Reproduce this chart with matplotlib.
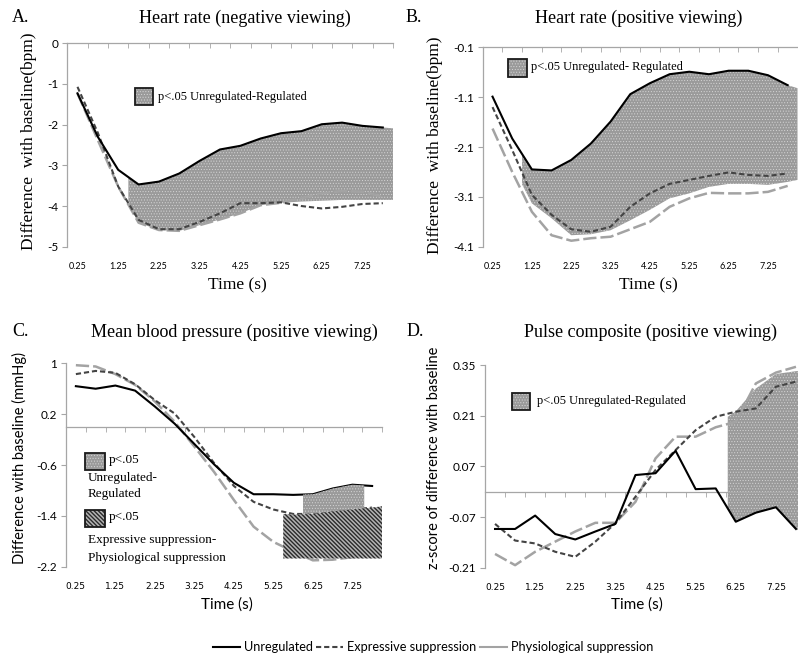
import numpy as np
import matplotlib
matplotlib.use('Agg')
import matplotlib.pyplot as plt
from matplotlib.patches import Rectangle
from matplotlib.lines import Line2D

SERIF = ['Liberation Serif', 'DejaVu Serif']
SANS = ['Lato', 'DejaVu Sans']

# data ===============================================
time = [0.25, 0.75, 1.25, 1.75, 2.25, 2.75, 3.25, 3.75,
        4.25, 4.75, 5.25, 5.75, 6.25, 6.75, 7.25, 7.75]
tick_pos = [0.25, 1.25, 2.25, 3.25, 4.25, 5.25, 6.25, 7.25]
tick_labels = ['0.25', '1.25', '2.25', '3.25', '4.25', '5.25', '6.25', '7.25']

# A. heart rate, negative viewing
hrn_unreg = [-1.23, -2.30, -3.11, -3.47, -3.40, -3.20, -2.89, -2.61,
             -2.52, -2.34, -2.21, -2.16, -1.99, -1.95, -2.03, -2.07]
hrn_expr = [-1.07, -2.20, -3.52, -4.34, -4.57, -4.57, -4.39, -4.18,
            -3.93, -3.93, -3.91, -4.00, -4.06, -4.02, -3.95, -3.93]
hrn_phys = [-1.23, -2.38, -3.52, -4.41, -4.59, -4.61, -4.47, -4.33,
            -4.18, -3.98, -3.92, -3.81, -3.69, -3.63, -3.65, -3.77]
hrn_sig_x = [1.5, 1.75, 2.25, 2.75, 3.25, 3.75, 4.25, 4.75,
             5.25, 5.75, 6.25, 6.75, 7.25, 7.75, 8.0]
hrn_sig_top = [-3.29, -3.47, -3.40, -3.20, -2.89, -2.61, -2.52, -2.34,
               -2.21, -2.16, -1.99, -1.95, -2.03, -2.07, -2.09]
hrn_sig_low = [-3.95, -4.41, -4.59, -4.61, -4.47, -4.33, -4.18, -3.98,
               -3.92, -3.89, -3.87, -3.85, -3.85, -3.85, -3.85]

# B. heart rate, positive viewing
hrp_unreg = [-1.09, -1.93, -2.55, -2.57, -2.36, -2.03, -1.59, -1.04,
             -0.82, -0.64, -0.59, -0.64, -0.57, -0.57, -0.66, -0.86]
hrp_expr = [-1.30, -2.16, -3.06, -3.46, -3.75, -3.80, -3.70, -3.30,
            -3.03, -2.84, -2.76, -2.68, -2.61, -2.66, -2.68, -2.63]
hrp_phys = [-1.73, -2.60, -3.40, -3.87, -3.98, -3.93, -3.90, -3.75,
            -3.60, -3.30, -3.13, -3.02, -3.03, -3.03, -3.00, -2.88]
hrp_sig_x = [1.0, 1.25, 1.75, 2.25, 2.75, 3.25, 3.75, 4.25, 4.75,
             5.25, 5.75, 6.25, 6.75, 7.25, 7.75, 8.0]
hrp_sig_top = [-2.24, -2.55, -2.57, -2.36, -2.03, -1.59, -1.04, -0.82, -0.64,
               -0.59, -0.64, -0.57, -0.57, -0.66, -0.86, -0.92]
hrp_sig_low = [-2.85, -3.23, -3.53, -3.87, -3.85, -3.77, -3.57, -3.36, -3.13,
               -3.03, -2.90, -2.84, -2.84, -2.86, -2.80, -2.76]

# C. mean blood pressure, positive viewing
bp_unreg = [0.64, 0.60, 0.65, 0.57, 0.32, 0.05, -0.27, -0.59,
            -0.88, -1.06, -1.06, -1.07, -1.06, -0.97, -0.91, -0.93]
bp_expr = [0.83, 0.88, 0.85, 0.67, 0.42, 0.21, -0.16, -0.57,
           -0.93, -1.18, -1.30, -1.37, -1.37, -1.33, -1.30, -1.27]
bp_phys = [0.97, 0.95, 0.83, 0.66, 0.40, 0.08, -0.31, -0.71,
           -1.15, -1.57, -1.81, -1.96, -2.10, -2.09, -2.05, -2.02]
bp_sig1_x = [6.0, 6.25, 6.75, 7.25, 7.55]
bp_sig1_top = [-1.065, -1.06, -0.97, -0.91, -0.92]
bp_sig1_low = [-1.37, -1.36, -1.33, -1.30, -1.28]
bp_sig2_x = [5.5, 5.75, 6.25, 6.75, 7.25, 7.75, 8.0]
bp_sig2_top = [-1.37, -1.38, -1.37, -1.33, -1.30, -1.27, -1.25]
bp_sig2_low = [-2.07, -2.07, -2.07, -2.07, -2.07, -2.07, -2.07]

# D. pulse composite, positive viewing
pc_unreg = [-0.103, -0.103, -0.066, -0.117, -0.132, -0.110, -0.089, 0.046,
            0.051, 0.113, 0.007, 0.009, -0.083, -0.058, -0.043, -0.103]
pc_expr = [-0.089, -0.135, -0.143, -0.166, -0.180, -0.138, -0.087, -0.014,
           0.060, 0.115, 0.170, 0.207, 0.221, 0.230, 0.290, 0.304]
pc_phys = [-0.172, -0.203, -0.166, -0.138, -0.110, -0.086, -0.086, -0.028,
           0.092, 0.152, 0.152, 0.178, 0.193, 0.299, 0.329, 0.345]
pc_sig_x = [6.05, 6.25, 6.75, 7.25, 7.75, 8.0]
pc_sig_top = [0.207, 0.222, 0.285, 0.325, 0.333, 0.336]
pc_sig_low = [-0.046, -0.083, -0.058, -0.043, -0.103, -0.118]


# figure =============================================
W, H = 798, 660
fig = plt.figure(figsize=(W / 100, H / 100), dpi=100)

def box(x0, y0, x1, y1):
    # pixel box (from top-left) -> figure fraction rect
    return [x0 / W, 1 - y1 / H, (x1 - x0) / W, (y1 - y0) / H]

def fpt(x, y):
    return x / W, 1 - y / H

AX_GRAY = '#a6a6a6'
DOT = dict(facecolor='#9a9a9a', edgecolor='#d6d6d6', hatch='......', linewidth=0, hlw=0.4)
STRIPE = dict(facecolor='#b4b4b4', edgecolor='#2a2a2a', hatch='\\' * 8, linewidth=0, hlw=1.0)


def hatched(make, style):
    st = dict(style)
    hlw = st.pop('hlw')
    with plt.rc_context({'hatch.linewidth': hlw}):
        art = make(st)
    if hasattr(art, 'set_hatch_linewidth'):
        art.set_hatch_linewidth(hlw)
    return art


def sig_fill(ax, x, low, top, style, z):
    return hatched(lambda st: ax.fill_between(x, low, top, zorder=z, **st), style)


def draw_lines(ax, unreg, expr, phys, z=3):
    ax.plot(time, phys, color='#a3a3a3', lw=1.8, dashes=(5.3, 1.6), zorder=z)
    ax.plot(time, expr, color='#444444', lw=1.5, dashes=(2.5, 1.4), zorder=z)
    ax.plot(time, unreg, color='black', lw=1.5, zorder=z)


def style_axes(ax, yticks, ylabels, zero_axis):
    ax.set_xlim(0, 8)
    ax.set_ylim(yticks[-1], yticks[0])
    ax.set_yticks(yticks)
    ax.set_yticklabels(ylabels, fontfamily=SANS)
    ax.set_xticks(tick_pos)
    ax.set_xticklabels(tick_labels, fontfamily=SANS)
    ax.set_xticks(np.arange(0, 8.01, 0.5), minor=True)
    ax.tick_params(axis='x', which='major', length=0, labelsize=6.5, pad=11,
                   top=False, bottom=True)
    ax.tick_params(axis='x', which='minor', top=True, bottom=False,
                   direction='in', length=3.5, color=AX_GRAY)
    ax.tick_params(axis='y', direction='out', length=3.5, color=AX_GRAY,
                   labelsize=8.5, pad=3)
    for s in ['right', 'bottom']:
        ax.spines[s].set_visible(False)
    for s in ['top', 'left']:
        ax.spines[s].set_color(AX_GRAY)
        ax.spines[s].set_linewidth(0.9)
    if zero_axis:
        ax.spines['top'].set_position(('data', 0))
    ax.set_facecolor('none')


# A.
axA = fig.add_axes(box(67.3, 43.3, 393, 246.7))
sig_fill(axA, hrn_sig_x, hrn_sig_low, hrn_sig_top, DOT, 1)
draw_lines(axA, hrn_unreg, hrn_expr, hrn_phys)
style_axes(axA, [0, -1, -2, -3, -4, -5], ['0', '-1', '-2', '-3', '-4', '-5'], False)

# B.
axB = fig.add_axes(box(482.7, 47.3, 797.5, 246.7))
sig_fill(axB, hrp_sig_x, hrp_sig_low, hrp_sig_top, DOT, 1)
draw_lines(axB, hrp_unreg, hrp_expr, hrp_phys)
style_axes(axB, [-0.1, -1.1, -2.1, -3.1, -4.1], ['-0.1', '-1.1', '-2.1', '-3.1', '-4.1'], False)

# C.
axC = fig.add_axes(box(66, 363.3, 382, 566.7))
draw_lines(axC, bp_unreg, bp_expr, bp_phys)
sig_fill(axC, bp_sig1_x, bp_sig1_low, bp_sig1_top, DOT, 4)
sig_fill(axC, bp_sig2_x, bp_sig2_low, bp_sig2_top, STRIPE, 5)
style_axes(axC, [1, 0.2, -0.6, -1.4, -2.2], ['1', '0.2', '-0.6', '-1.4', '-2.2'], True)

# D.
axD = fig.add_axes(box(485, 365, 806, 567.7))
sig_fill(axD, pc_sig_x, pc_sig_low, pc_sig_top, DOT, 1)
draw_lines(axD, pc_unreg, pc_expr, pc_phys)
style_axes(axD, [0.35, 0.21, 0.07, -0.07, -0.21], ['0.35', '0.21', '0.07', '-0.07', '-0.21'], True)

# titles, panel letters, axis labels
for letter, lx, title, tx, ty in [('A.', 12, 'Heart rate (negative viewing)', 245, 18),
                                  ('B.', 406, 'Heart rate (positive viewing)', 639, 18),
                                  ('C.', 12, 'Mean blood pressure (positive viewing)', 234, 332),
                                  ('D.', 407, 'Pulse composite (positive viewing)', 650, 332)]:
    fig.text(*fpt(lx, ty), letter, family=SERIF, fontsize=13, ha='left', va='center')
    fig.text(*fpt(tx, ty), title, family=SERIF, fontsize=13, ha='center', va='center')

fig.text(*fpt(29, 141), 'Difference  with baseline(bpm)', family=SERIF, fontsize=12.5,
         rotation=90, ha='center', va='center')
fig.text(*fpt(435, 145), 'Difference  with baseline(bpm)', family=SERIF, fontsize=12.5,
         rotation=90, ha='center', va='center')
fig.text(*fpt(19, 458), 'Difference with baseline (mmHg)', family=SANS, fontsize=10.5,
         rotation=90, ha='center', va='center')
fig.text(*fpt(434, 458), 'z-score of difference with baseline', family=SANS, fontsize=10.5,
         rotation=90, ha='center', va='center')

fig.text(*fpt(237, 285), 'Time (s)', family=SERIF, fontsize=12.5, ha='center', va='center')
fig.text(*fpt(648, 285), 'Time (s)', family=SERIF, fontsize=12.5, ha='center', va='center')
fig.text(*fpt(227, 605), 'Time (s)', family=SANS, fontsize=11, ha='center', va='center')
fig.text(*fpt(637, 605), 'Time (s)', family=SANS, fontsize=11, ha='center', va='center')


# in-panel significance keys
def key(x0, y0, w, h, style):
    rect = (x0 / W, 1 - (y0 + h) / H)
    hatched(lambda st: fig.add_artist(Rectangle(rect, w / W, h / H, transform=fig.transFigure,
                                                zorder=10, **st)), style)
    fig.add_artist(Rectangle(rect, w / W, h / H, transform=fig.transFigure, fill=False,
                             edgecolor='#1a1a1a', linewidth=1.3, zorder=11))

def key_text(x, y, s, size=9):
    fig.text(*fpt(x, y), s, family=SERIF, fontsize=size, ha='left', va='center', zorder=12)

key(135, 88, 18, 17, DOT)
key_text(158, 97, 'p<.05 Unregulated-Regulated')
key(508, 59, 19, 18, DOT)
key_text(531, 67, 'p<.05 Unregulated- Regulated')
key(512, 393, 18, 17, DOT)
key_text(537, 401, 'p<.05 Unregulated-Regulated')

key(85, 453, 20, 17, DOT)
key_text(109, 460, 'p<.05', 9.5)
key_text(88, 478, 'Unregulated-', 9.5)
key_text(88, 494, 'Regulated', 9.5)
key(85, 510, 20, 17, STRIPE)
key_text(109, 517, 'p<.05', 9.5)
key_text(88, 540, 'Expressive suppression-', 9.5)
key_text(88, 558, 'Physiological suppression', 9.5)

# shared legend
handles = [Line2D([], [], color='black', lw=1.5),
           Line2D([], [], color='#444444', lw=1.5, dashes=(2.5, 1.4)),
           Line2D([], [], color='#a3a3a3', lw=1.5)]
fig.legend(handles, ['Unregulated', 'Expressive suppression', 'Physiological suppression'],
           loc='center', bbox_to_anchor=fpt(433, 647), ncol=3, frameon=False,
           handlelength=2.1, columnspacing=0.3, handletextpad=0.3,
           prop={'family': SANS, 'size': 9.2})

fig.savefig('out.png', dpi=100)
